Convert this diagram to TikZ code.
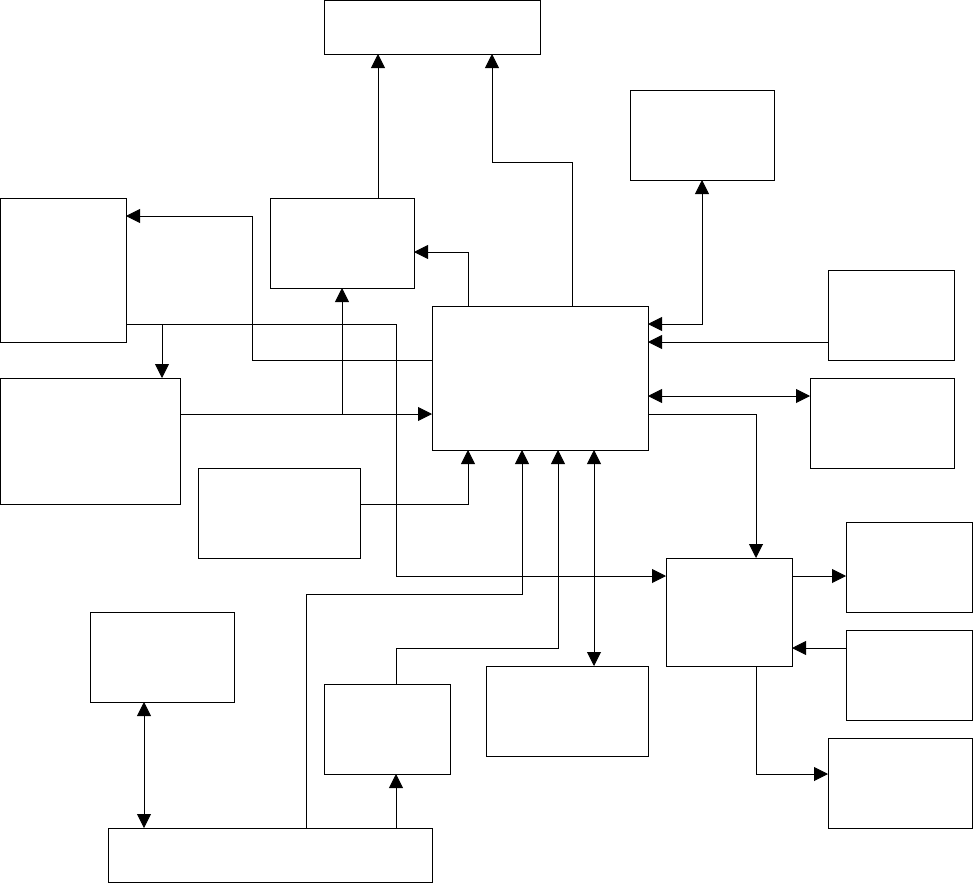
\documentclass[tikz,border=0pt]{standalone}
\usetikzlibrary{arrows.meta}
\tikzstyle{arrow} = [line width=0.9pt,-{Triangle[length=14pt,width=14pt]}]
\tikzstyle{darrow} = [line width=0.9pt,{Triangle[length=14pt,width=14pt]}-{Triangle[length=14pt,width=14pt]}]
\tikzset{block/.style={rectangle,draw,line width=0.9pt,inner sep=0pt,outer sep=0pt}}

\begin{document}
\begin{tikzpicture}[x=1pt,y=-1pt]
    \useasboundingbox (0,0) rectangle (973,883);

    \node [block, minimum width=216pt, minimum height=54pt] (top) at (432,27) {};
    \node [block, minimum width=144pt, minimum height=90pt] (monitor) at (702,135) {};
    \node [block, minimum width=126pt, minimum height=144pt] (left1) at (63,270) {};
    \node [block, minimum width=144pt, minimum height=90pt] (mid1) at (342,243) {};
    \node [block, minimum width=216pt, minimum height=144pt] (core) at (540,378) {};
    \node [block, minimum width=126pt, minimum height=90pt] (right1) at (891,315) {};
    \node [block, minimum width=144pt, minimum height=90pt] (right2) at (882,423) {};
    \node [block, minimum width=180pt, minimum height=126pt] (left2) at (90,441) {};
    \node [block, minimum width=162pt, minimum height=90pt] (mid2) at (279,513) {};
    \node [block, minimum width=126pt, minimum height=108pt] (hub) at (729,612) {};
    \node [block, minimum width=126pt, minimum height=90pt] (right3) at (909,567) {};
    \node [block, minimum width=126pt, minimum height=90pt] (right4) at (909,675) {};
    \node [block, minimum width=144pt, minimum height=90pt] (right5) at (900,783) {};
    \node [block, minimum width=144pt, minimum height=90pt] (left3) at (162,657) {};
    \node [block, minimum width=126pt, minimum height=90pt] (mid3) at (387,729) {};
    \node [block, minimum width=162pt, minimum height=90pt] (mid4) at (567,711) {};
    \node [block, minimum width=324pt, minimum height=54pt] (bottom) at (270,855) {};

    \coordinate (jleft1) at ([yshift=-54pt]left1.east);
    \coordinate (jleft2) at ([yshift=27pt]left2.east);
    \coordinate (jhub) at ([yshift=36pt]hub.east);

    % upper part
    \draw [arrow] ([xshift=36pt]mid1.north) -- ([xshift=36pt]mid1.north |- top.south);
    \draw [arrow] ([xshift=32pt]core.north) -- ++(0,-144) -| ([xshift=60pt]top.south);
    \draw [arrow] ([xshift=-72pt]core.north) |- ([yshift=-9pt]mid1.east);
    \draw [arrow] ([yshift=18pt]core.west) -- ++(-180,0) |- ([yshift=54pt]left1.east);
    \draw [arrow] (jleft1) -- ++(270,0) |- ([yshift=36pt]hub.west);
    \draw [arrow] ([xshift=72pt]left2.north |- jleft1) -- ([xshift=72pt]left2.north);
    \draw [arrow] (jleft2) -- (jleft2 -| core.west);
    \draw [arrow] (mid1.south |- jleft2) -- (mid1.south);
    \draw [arrow] ([yshift=9pt]mid2.east) -| ([xshift=-72pt]core.south);

    % lower part
    \draw [arrow] ([xshift=36pt]bottom.north) -- ++(0,-234) -| ([xshift=-18pt]core.south);
    \draw [arrow] ([xshift=9pt]mid3.north) -- ++(0,-36) -| ([xshift=18pt]core.south);
    \draw [darrow] ([xshift=54pt]core.south) -- ([xshift=54pt]core.south |- mid4.north);
    \draw [darrow] ([xshift=-18pt]left3.south) -- ([xshift=-18pt]left3.south |- bottom.north);
    \draw [arrow] ([xshift=126pt]bottom.north) -- ([xshift=9pt]mid3.south);

    % right part
    \draw [darrow] ([yshift=54pt]core.east) -| (monitor.south);
    \draw [arrow] ([yshift=-27pt]right1.west) -- ([yshift=-27pt]right1.west -| core.east);
    \draw [darrow] ([yshift=-18pt]core.east) -- ([yshift=27pt]right2.west);
    \draw [arrow] ([yshift=-36pt]core.east) -| ([xshift=27pt]hub.north);
    \draw [arrow] (jhub) -- (jhub -| right3.west);
    \draw [arrow] ([yshift=27pt]right4.west) -- ([yshift=27pt]right4.west -| hub.east);
    \draw [arrow] ([xshift=27pt]hub.south) |- ([yshift=9pt]right5.west);
\end{tikzpicture}
\end{document}
